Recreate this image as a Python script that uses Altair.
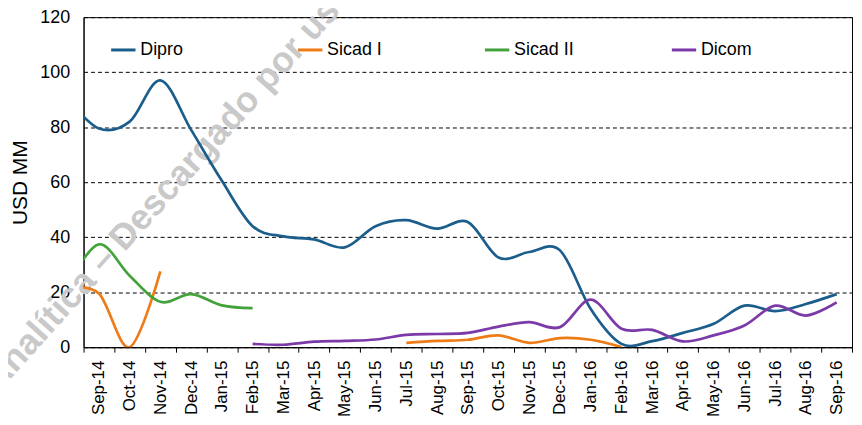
import altair as alt
import pandas as pd

# Month categories (Aug-14 lies just left of the visible axis; curves enter from it)
months = ["Aug-14", "Sep-14", "Oct-14", "Nov-14", "Dec-14", "Jan-15", "Feb-15", "Mar-15",
          "Apr-15", "May-15", "Jun-15", "Jul-15", "Aug-15", "Sep-15", "Oct-15", "Nov-15",
          "Dec-15", "Jan-16", "Feb-16", "Mar-16", "Apr-16", "May-16", "Jun-16", "Jul-16",
          "Aug-16", "Sep-16"]

series_names = ["Dipro", "Sicad I", "Sicad II", "Dicom"]

dipro = [90, 79.5, 82, 97, 79, 60.5, 44, 40.3, 39.2, 36.3, 44, 46.2, 43.1, 45.5, 32.6,
         34.6, 35.2, 13.9, 1.2, 2.2, 5.2, 8.5, 15.1, 13.1, 15.7, 19.3]
sicad1 = [21.5, 19.5, 0, 27.6, None, None, None, None, None, None, None, 1.6, 2.3, 2.7,
          4.3, 1.6, 3.3, 2.7, 0.1, None, None, None, None, None, None, None]
sicad2 = [23, 37.4, 26, 16.5, 19.3, 15.2, 14.2, None, None, None, None, None, None, None,
          None, None, None, None, None, None, None, None, None, None, None, None]
dicom = [None, None, None, None, None, None, 1.2, 0.9, 2.0, 2.3, 2.8, 4.5, 4.8, 5.2, 7.5,
         9.1, 7.3, 17.3, 6.7, 6.3, 2.1, 4.3, 7.9, 15.1, 11.5, 16.3]

colors = ["#1B5E8C", "#EE7B16", "#43A23A", "#7B3AA8"]
watermark_text = "Analítica – Descargado por usuario"

rows = []
for name, vals in zip(series_names, [dipro, sicad1, sicad2, dicom]):
    seg = 0
    prev = False
    for i, (m, v) in enumerate(zip(months, vals)):
        if v is None:
            if prev:
                seg += 1
            prev = False
            continue
        rows.append(dict(serie=name, mes=m, idx=i - 1, valor=v, tramo=f"{name}-{seg}"))
        prev = True
df = pd.DataFrame(rows)

axis_labels = months[1:]
label_expr = "[" + ",".join(f"'{m}'" for m in axis_labels) + "][datum.value + 0.5] || ''"
tick_vals = [i - 0.5 for i in range(len(axis_labels) + 1)]
n_band = len(axis_labels)
W, H = 773, 332
half_band = W / n_band / 2

FONT = "Liberation Sans"

wm = alt.Chart(pd.DataFrame({"t": [watermark_text]})).mark_text(
    angle=312, align="left", baseline="alphabetic", fontSize=36, fontWeight="bold",
    color="#c9c9c9", font=FONT
).encode(x=alt.value(-86), y=alt.value(378), text="t:N")

lines = alt.Chart(df).mark_line(interpolate="cardinal", strokeWidth=2.7, clip=True).encode(
    x=alt.X("idx:Q",
            scale=alt.Scale(domain=[-0.5, n_band - 0.5], nice=False, zero=False),
            axis=alt.Axis(values=tick_vals, labelExpr=label_expr, labelOffset=half_band,
                          labelAngle=270, labelAlign="right", labelBaseline="middle",
                          tickSize=5, labelPadding=8, grid=False, title=None,
                          labelFontSize=17, labelOverlap=False, labelFlush=False,
                          labelBound=False)),
    y=alt.Y("valor:Q",
            scale=alt.Scale(domain=[0, 120], nice=False),
            axis=alt.Axis(values=[0, 20, 40, 60, 80, 100, 120], grid=True, gridDash=[4, 3],
                          gridColor="#000000", gridWidth=1, ticks=False, labelPadding=14,
                          labelFontSize=18, title="USD MM", titleFontSize=21,
                          titleFontWeight="normal", titlePadding=9)),
    color=alt.Color("serie:N",
                    scale=alt.Scale(domain=series_names, range=colors),
                    legend=alt.Legend(orient="none", legendX=26, legendY=19,
                                      direction="horizontal", columns=4, columnPadding=91,
                                      gridAlign="all", symbolType="stroke", symbolSize=600,
                                      symbolStrokeWidth=3, labelFontSize=18, labelOffset=3,
                                      padding=0, title=None)),
    detail="tramo:N",
)

chart = alt.layer(wm, lines).properties(
    width=W, height=H,
    autosize=alt.AutoSizeParams(type="none"),
    padding={"left": 76, "top": 8, "right": 2, "bottom": 69},
).configure(font=FONT).configure_view(
    stroke="#000000", strokeWidth=1
).configure_axis(
    labelColor="#000000", titleColor="#000000", domainColor="#000000", tickColor="#000000",
    labelFont=FONT, titleFont=FONT
).configure_legend(labelColor="#000000", labelFont=FONT)

chart.save("out.html", embed_options={"renderer": "svg", "actions": False})
